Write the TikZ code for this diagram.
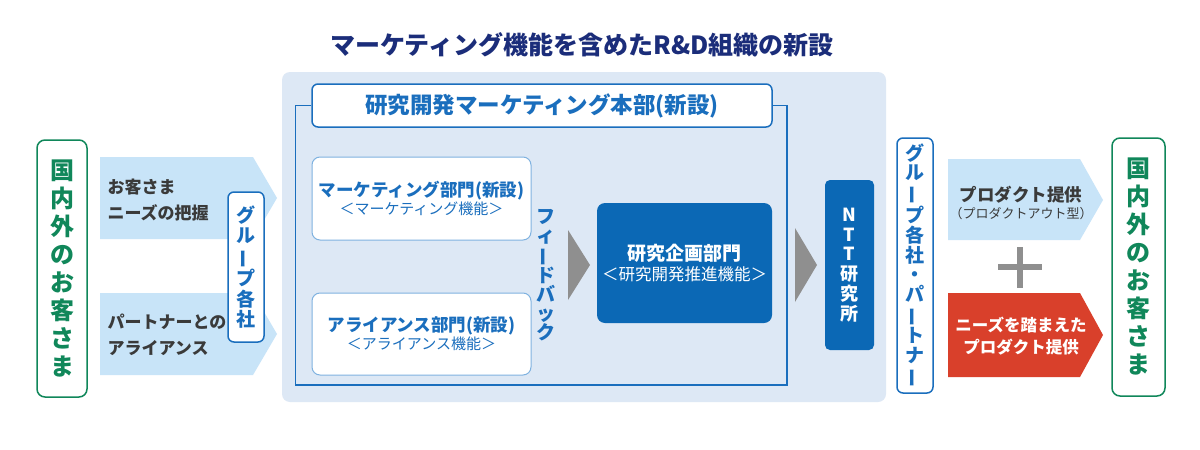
\documentclass[tikz,border=0pt]{standalone}
\usepackage{fontspec}
\setmainfont{Noto Sans CJK JP}
\definecolor{navy}{HTML}{1B2D7A}
\definecolor{nblue}{HTML}{1A6EBD}
\definecolor{dblue}{HTML}{0B68B5}
\definecolor{panelc}{HTML}{DDE8F5}
\definecolor{arrowc}{HTML}{C8E4F8}
\definecolor{ngreen}{HTML}{10875A}
\definecolor{nred}{HTML}{D9402B}
\definecolor{ngray}{HTML}{8F8F8F}
\definecolor{tgray}{HTML}{3A3A3A}
\definecolor{lborder}{HTML}{7FB2E0}
\newcommand{\vchoon}{\rotatebox[origin=c]{90}{ー}}
\tikzset{
  greenbox/.style={draw=ngreen, line width=1.5pt, fill=white, rounded corners=8pt, text=ngreen,
    font=\bfseries\fontsize{24}{28}\selectfont, align=center, inner sep=0pt},
  gpbox/.style={draw=nblue, line width=1.5pt, fill=white, rounded corners=6pt, text=nblue,
    font=\bfseries\fontsize{19}{20.5}\selectfont, align=center, inner sep=0pt},
  subbox/.style={draw=lborder, line width=1pt, fill=white, rounded corners=8pt, align=center, inner sep=0pt},
  darkbox/.style={fill=dblue, rounded corners=8pt, text=white, align=center, inner sep=0pt},
  lightarrow/.style={fill=arrowc},
  grayarrow/.style={fill=ngray},
  frame/.style={draw=nblue, line width=1.5pt},
}
\begin{document}
\begin{tikzpicture}[x=1pt,y=-1pt]
\useasboundingbox (0,0) rectangle (1200,450);
\fill[white] (0,0) rectangle (1200,450);
% title
\node[text=navy, font=\bfseries\fontsize{25}{28}\selectfont] (title) at (582,45) {マーケティング機能を含めたR\&D組織の新設};
% panel
\node[fill=panelc, rounded corners=8pt, minimum width=604pt, minimum height=330pt, inner sep=0pt] (panel) at (584,237) {};
% left green box
\node[greenbox, minimum width=50pt, minimum height=257pt] (custL) at (62,268.5) {国\\内\\外\\の\\お\\客\\さ\\ま};
% left arrows
\fill[lightarrow] (100,157) -- (253,157) -- (277,198) -- (253,239) -- (100,239) -- cycle;
\fill[lightarrow] (100,293) -- (253,293) -- (277,334) -- (253,375) -- (100,375) -- cycle;
\node[anchor=west, text=tgray, align=left, font=\bfseries\fontsize{17}{26}\selectfont] (needs) at (104,200) {お客さま\\ニーズの把握};
\node[anchor=west, text=tgray, align=left, font=\bfseries\fontsize{17}{26}\selectfont] (partner) at (104,335) {パートナーとの\\アライアンス};
\node[gpbox, minimum width=36pt, minimum height=150pt] (gpL) at (246,267) {グ\\ル\\\vchoon\\プ\\各\\社};
% header and frame
\node[draw=nblue, line width=1.5pt, fill=white, rounded corners=6pt, minimum width=460pt, minimum height=43pt, inner sep=0pt,
  text=nblue, font=\bfseries\fontsize{22.5}{24}\selectfont] (hdr) at (542,105.5) {研究開発マーケティング本部(新設)};
\draw[frame] (hdr.west) -- ++(-16,0) |- (787,385) |- (hdr.east);
% sub boxes
\node[subbox, minimum width=219pt, minimum height=83pt] (mkt) at (421.5,198.5)
  {{\color{nblue}\bfseries\fontsize{17.5}{22}\selectfont マーケティング部門(新設)}\\[1pt]{\color{nblue}\fontsize{15}{18}\selectfont ＜マーケティング機能＞}};
\node[subbox, minimum width=219pt, minimum height=82pt] (all) at (421.5,334)
  {{\color{nblue}\bfseries\fontsize{17.5}{22}\selectfont アライアンス部門(新設)}\\[1pt]{\color{nblue}\fontsize{15}{18}\selectfont ＜アライアンス機能＞}};
\node[text=nblue, font=\bfseries\fontsize{19}{19}\selectfont, align=center, inner sep=0pt] (fb) at (546,275) {フ\\ィ\\\vchoon\\ド\\バ\\ッ\\ク};
% gray arrows
\fill[grayarrow] (568,230) -- (590,265) -- (568,300) -- cycle;
\node[darkbox, minimum width=175pt, minimum height=120pt] (plan) at (684.5,263)
  {{\bfseries\fontsize{19}{23}\selectfont 研究企画部門}\\[3pt]{\fontsize{16.5}{20}\selectfont ＜研究開発推進機能＞}};
\fill[grayarrow] (795,228) -- (817,265) -- (795,302) -- cycle;
\node[darkbox, rounded corners=5pt, minimum width=49pt, minimum height=170pt, font=\bfseries\fontsize{18}{19.7}\selectfont] (ntt) at (849.5,265) {N\\T\\T\\研\\究\\所};
% right side
\node[gpbox, minimum width=36pt, minimum height=255pt, font=\bfseries\fontsize{19}{19.9}\selectfont] (gpR) at (915,265.5)
  {グ\\ル\\\vchoon\\プ\\各\\社\\・\\パ\\\vchoon\\ト\\ナ\\\vchoon};
\fill[lightarrow] (948,159) -- (1080,159) -- (1103,200) -- (1080,240) -- (948,240) -- cycle;
\fill[nred] (948,293) -- (1080,293) -- (1103,335) -- (1080,377) -- (948,377) -- cycle;
\node[text=tgray, align=center] (prod) at (1021,203)
  {{\bfseries\fontsize{17.5}{21}\selectfont プロダクト提供}\\[3pt]{\fontsize{13}{16}\selectfont （プロダクトアウト型）}};
\node[text=white, align=center, font=\bfseries\fontsize{16.5}{22}\selectfont] (prodn) at (1021,336) {ニーズを踏まえた\\プロダクト提供};
\draw[ngray, line width=6pt] (998,267) -- (1042,267);
\draw[ngray, line width=6pt] (1020,247) -- (1020,288);
\node[greenbox, minimum width=53pt, minimum height=258pt] (custR) at (1138.5,267) {国\\内\\外\\の\\お\\客\\さ\\ま};
\end{tikzpicture}
\end{document}
